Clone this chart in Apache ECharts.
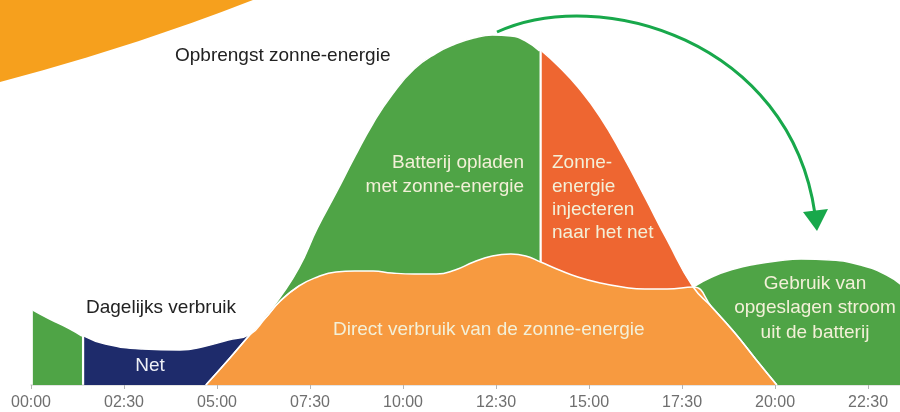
<!DOCTYPE html>
<html>
<head>
<meta charset="utf-8">
<script src="https://cdn.jsdelivr.net/npm/echarts@6/dist/echarts.min.js"></script>
<style>
  html, body { margin: 0; padding: 0; background: #fff; }
  #chart { width: 900px; height: 412px; }
</style>
</head>
<body>
<div id="chart"></div>
<script>
  var hours = [0.05, 0.5, 1, 1.4, 2, 3, 4, 4.7, 5.3, 5.9, 6.3, 6.7, 7.2, 7.7, 8.2, 8.7, 9.2, 9.7,
    10.3, 10.9, 11.4, 11.9, 12.4, 12.9, 13.3, 13.7, 14.2, 14.7, 15.3, 15.9, 16.5, 17.1, 17.8, 18.3,
    18.9, 19.5, 20.05, 20.7, 21.5, 22.3, 23, 23.4];
  // dagelijks verbruik
  var usage = [75, 66, 57, 49, 41, 36, 35, 39, 45, 51, 67, 84, 99, 108, 113, 114, 114, 112,
    111, 111, 115, 123, 129, 131, 129, 123, 115, 108, 102, 98, 96, 96, 98, 108,
    116, 121, 124, 126, 125, 120, 110, 100];
  // opbrengst zonne-energie
  var solar = [null, null, null, null, null, null, null, 0, 25, 51, 69, 88, 117, 157, 192, 228, 262, 290,
    316, 332, 341, 347, 350, 349, 344, 334, 318, 298, 268, 230, 188, 145, 98, 78,
    53, 25, 0, null, null, null, null, null];
  var gridEnd = 1.4;       // einde groen (batterij) -> net
  var batteryFull = 13.7;  // batterij vol -> injecteren
  var tickLabels = ['00:00', '02:30', '05:00', '07:30', '10:00', '12:30', '15:00', '17:30', '20:00', '22:30'];

  var gap = 0.03;
  function part(values, from, to, gapFrom, gapTo) {
    var out = [];
    for (var i = 0; i < hours.length; i++) {
      var h = hours[i];
      if (values[i] == null || h < from || h > to) continue;
      if (gapFrom && h == from) h += gap;
      if (gapTo && h == to) h -= gap;
      out.push([h, values[i]]);
    }
    return out;
  }
  var direct = [];
  for (var i = 0; i < hours.length; i++) {
    if (solar[i] == null) continue;
    direct.push([hours[i], Math.min(solar[i], usage[i])]);
  }

  var green = '#4FA446', navy = '#1E2B6B', red = '#EE6631', orange = '#F79A40';
  var cream = '#F3F0D8';
  var font = '"Liberation Sans", Arial, sans-serif';

  function area(name, data, color) {
    return {
      name: name, type: 'line', data: data, smooth: 0.5, showSymbol: false,
      lineStyle: { color: '#fff', width: 1.5 },
      areaStyle: { color: color, opacity: 1 },
      silent: true
    };
  }

  function txt(text, x, y, align, size, color, lh) {
    return {
      type: 'text', x: x, y: y, z: 100, silent: true,
      style: {
        text: text, fill: color, font: size + 'px ' + font,
        align: align, textAlign: align, verticalAlign: 'middle', textVerticalAlign: 'middle',
        lineHeight: lh || size
      }
    };
  }

  var chart = echarts.init(document.getElementById('chart'));
  var option = {
    animation: false,
    grid: { left: 31, right: 0, top: 0, bottom: 27 },
    xAxis: {
      type: 'value', min: 0, max: 23.36, interval: 2.5,
      axisLine: { lineStyle: { color: '#dcdcdc', width: 1.5 } },
      axisTick: { length: 4, lineStyle: { color: '#b5b5b5' } },
      splitLine: { show: false },
      axisLabel: {
        color: '#6f6f6f', fontSize: 16, fontFamily: font, margin: 10, showMaxLabel: false,
        formatter: function (v) { return tickLabels[Math.round(v / 2.5)] || ''; }
      }
    },
    yAxis: { type: 'value', min: 0, max: 385, show: false },
    series: [
      area('Batterij ochtend', part(usage, 0, gridEnd, false, true), green),
      area('Net', part(usage, gridEnd, 7.2, true, false), navy),
      area('Batterij avond', part(usage, 17.8, 24, false, false), green),
      area('Batterij opladen', part(solar, 4.7, batteryFull, false, true), green),
      area('Injecteren', part(solar, batteryFull, 24, true, false), red),
      area('Direct verbruik', direct, orange)
    ],
    graphic: [
      { type: 'circle', silent: true, shape: { cx: -570, cy: -2107, r: 2262 },
        style: { fill: '#F6A01D' } },
      { type: 'bezierCurve', silent: true, z: 100,
        shape: { x1: 497, y1: 32, cpx1: 600, cpy1: -15, cpx2: 790, cpy2: 40, x2: 815, y2: 214 },
        style: { stroke: '#18A84B', lineWidth: 3, fill: null } },
      { type: 'polygon', silent: true, z: 100, shape: { points: [[803, 212], [828, 209], [817, 231]] },
        style: { fill: '#18A84B' } },
      txt('Opbrengst zonne-energie', 175, 56, 'left', 19, '#222'),
      txt('Dagelijks verbruik', 86, 308, 'left', 19, '#222'),
      txt('Net', 150, 366, 'center', 19, '#EEF0F6'),
      txt('Batterij opladen\nmet zonne-energie', 524, 175, 'right', 19, cream, 24),
      txt('Zonne-\nenergie\ninjecteren\nnaar het net', 552, 198, 'left', 19, cream, 23.3),
      txt('Direct verbruik van de zonne-energie', 333, 330, 'left', 19, cream),
      txt('Gebruik van\nopgeslagen stroom\nuit de batterij', 815, 308, 'center', 19, cream, 24.5)
    ]
  };
  chart.setOption(option);
</script>
</body>
</html>
